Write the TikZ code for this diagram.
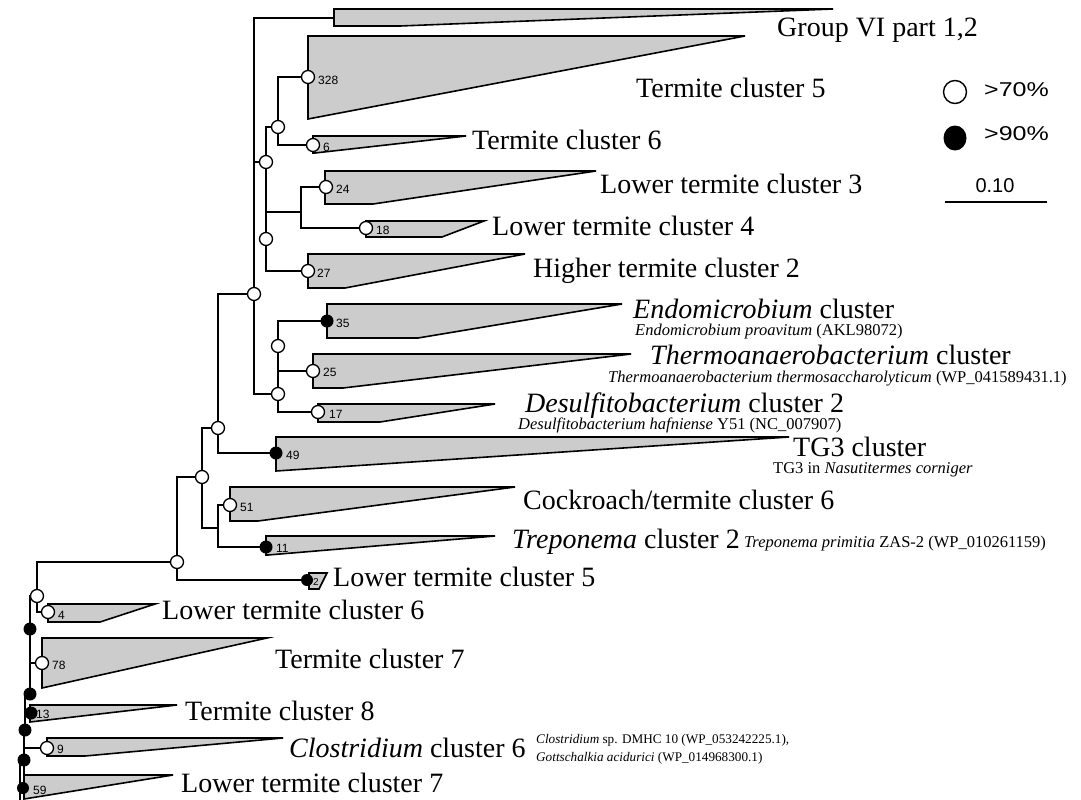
\documentclass[tikz,border=0pt]{standalone}
\usepackage{fontspec}
\usetikzlibrary{shapes.geometric}
\setmainfont{Liberation Serif}
\newfontfamily\lsans{Liberation Sans}
\newfontfamily\lsansw{Liberation Sans}[FakeStretch=1.25]
\begin{document}
\begin{tikzpicture}[x=1pt,y=-1pt,
  br/.style={line width=1.7pt, line cap=rect},
  clade/.style={draw, line width=1.6pt, fill=black!20, line join=miter},
  oc/.style={circle, draw, line width=1.3pt, fill=white, inner sep=0pt, minimum size=13pt},
  fc/.style={circle, fill=black, inner sep=0pt, minimum size=13pt},
  num/.style={font=\lsans\fontsize{12}{12}\selectfont, anchor=west, inner sep=0pt},
  lab/.style={font=\fontsize{28}{30}\selectfont, anchor=base west, inner sep=0pt},
  sub/.style={font=\fontsize{16.5}{17}\selectfont, anchor=base west, inner sep=0pt},
  csub/.style={font=\fontsize{13.2}{14}\selectfont, anchor=base west, inner sep=0pt},
  leg/.style={font=\lsansw\fontsize{20}{22}\selectfont, anchor=west, inner sep=0pt}]
\useasboundingbox (0,0) rectangle (1081,800);
\begin{scope}
\clip (0,0) rectangle (1081,800);
% collapsed clades
\draw[clade] (334,9) -- (833,9) -- (400,26) -- (334,26) -- cycle;
\draw[clade] (308,36) -- (745,36) -- (308,119) -- cycle;
\draw[clade] (313,136) -- (466,136) -- (315,153) -- (313,153) -- cycle;
\draw[clade] (325,171) -- (596,171) -- (373,204) -- (325,204) -- cycle;
\draw[clade] (366,221) -- (484,221) -- (442,237) -- (366,237) -- cycle;
\draw[clade] (308,254) -- (525,254) -- (345,288) -- (308,288) -- cycle;
\draw[clade] (327,304) -- (622,304) -- (418,338) -- (327,338) -- cycle;
\draw[clade] (313,354) -- (631,354) -- (343,388) -- (313,388) -- cycle;
\draw[clade] (318,404) -- (495,404) -- (380,422) -- (318,422) -- cycle;
\draw[clade] (276,437) -- (789,437) -- (276,471) -- cycle;
\draw[clade] (230,487) -- (515,487) -- (258,521) -- (230,521) -- cycle;
\draw[clade] (266,536) -- (495,536) -- (268,555) -- (266,555) -- cycle;
\draw[clade] (309,573) -- (327,573) -- (319,589) -- (309,589) -- cycle;
\draw[clade] (48,604) -- (155,604) -- (100,622) -- (48,622) -- cycle;
\draw[clade] (42,638) -- (267,638) -- (42,688) -- cycle;
\draw[clade] (30,705) -- (177,705) -- (30,722) -- cycle;
\draw[clade] (47,738) -- (283,738) -- (85,756) -- (47,756) -- cycle;
\draw[clade] (24,775) -- (173,775) -- (24,799) -- cycle;
% node points
\coordinate (n255) at (254,294);
\coordinate (n218) at (218,428);
\coordinate (n202) at (202,477);
\coordinate (n177) at (177,562);
\coordinate (n37) at (37,596);
\coordinate (n266) at (266,162);
\coordinate (n266b) at (266,239);
\coordinate (n278) at (278,127);
\coordinate (n301) at (301,212);
\coordinate (n278b) at (278,394);
\coordinate (n278c) at (278,346);
\coordinate (n218b) at (218,528);
\coordinate (t1) at (30,629);
\coordinate (t2) at (30,694);
\coordinate (t3) at (25,730);
\coordinate (t4) at (24,760);
\coordinate (t5) at (20,800);
\coordinate (gvi) at (334,18);
\coordinate (l328) at (308,77);
\coordinate (l6) at (313,145);
\coordinate (l24) at (326,187);
\coordinate (l18) at (366,228);
\coordinate (l27) at (308,271);
\coordinate (l35) at (327,321);
\coordinate (l25) at (313,371);
\coordinate (l17) at (318,412);
\coordinate (l49) at (276,453);
\coordinate (l51) at (230,505);
\coordinate (l11) at (266,547);
\coordinate (l2) at (307,580);
\coordinate (l4) at (48,612);
\coordinate (l78) at (42,663);
\coordinate (l13) at (31,713);
\coordinate (l9) at (47,748);
\coordinate (l59) at (24,788);
% branches
\draw[br] (n255) |- (gvi);
\draw[br] (n255) |- (n266);
\draw[br] (n255) |- (n278b);
\draw[br] (n266) |- (n278);
\draw[br] (n266) |- (n301);
\draw[br] (n266) |- (l27);
\draw[br] (n278) |- (l328);
\draw[br] (n278) |- (l6);
\draw[br] (n301) |- (l24);
\draw[br] (n301) |- (l18);
\draw[br] (n278b) |- (l35);
\draw[br] (n278b) |- (l25);
\draw[br] (n278b) |- (l17);
\draw[br] (n218) |- (n255);
\draw[br] (n218) |- (l49);
\draw[br] (n202) |- (n218);
\draw[br] (n202) |- (n218b);
\draw[br] (n218b) |- (l51);
\draw[br] (n218b) |- (l11);
\draw[br] (n177) |- (n202);
\draw[br] (n177) |- (l2);
\draw[br] (n37) |- (n177);
\draw[br] (n37) |- (l4);
\draw[br] (t1) |- (n37);
\draw[br] (t1) |- (l78);
\draw[br] (t2) |- (t1);
\draw[br] (t3) |- (t2);
\draw[br] (t3) |- (l13);
\draw[br] (t4) |- (t3);
\draw[br] (t4) |- (l9);
\draw[br] (t4) -- (l59);
\draw[br] (t5) |- (t4);
% support circles
\foreach \p in {n255,n218,n202,n177,n37,n266,n266b,n278,n278b,n278c,
  l328,l6,l24,l18,l27,l25,l17,l51,l4,l78,l9}
  \node[oc] (c-\p) at (\p) {};
\foreach \p in {l35,l49,l11,l13,t1,t2,t3,t4}
  \node[fc] (c-\p) at (\p) {};
\node[fc, minimum size=12pt] (c-l2) at (l2) {};
\node[fc, minimum size=12pt] (c-l59) at (23,788) {};
\end{scope}
% clade sizes
\node[num] (s328) at (318,80) {328};
\node[num] (s6) at (323,147) {6};
\node[num] (s24) at (336,189) {24};
\node[num] (s18) at (376,230) {18};
\node[num] (s27) at (317,273) {27};
\node[num] (s35) at (336,323) {35};
\node[num] (s25) at (323,372) {25};
\node[num] (s17) at (329,414) {17};
\node[num] (s49) at (286,455) {49};
\node[num] (s51) at (240,507) {51};
\node[num] (s11) at (276,548) {11};
\node[num, font=\lsans\fontsize{10}{10}\selectfont] (s2) at (313,582) {2};
\node[num] (s4) at (58,615) {4};
\node[num] (s78) at (52,665) {78};
\node[num] (s13) at (36,714) {13};
\node[num] (s9) at (57,749) {9};
\node[num] (s59) at (33,790) {59};
% clade names
\node[lab] (tGVI) at (777,37) {Group VI part 1,2};
\node[lab] (tT5) at (636,97) {Termite cluster 5};
\node[lab] (tT6) at (472,149) {Termite cluster 6};
\node[lab] (tL3) at (600,193) {Lower termite cluster 3};
\node[lab] (tL4) at (492,235) {Lower termite cluster 4};
\node[lab] (tH2) at (533,277) {Higher termite cluster 2};
\node[lab] (tEn) at (633,318) {\textit{Endomicrobium} cluster};
\node[sub] (sEn) at (635,335) {\textit{Endomicrobium proavitum} (AKL98072)};
\node[lab] (tTh) at (650,364) {\textit{Thermoanaerobacterium} cluster};
\node[sub] (sTh) at (608,382) {\textit{Thermoanaerobacterium thermosaccharolyticum} (WP\_041589431.1)};
\node[lab] (tDe) at (525,412) {\textit{Desulfitobacterium} cluster 2};
\node[sub] (sDe) at (518,429) {\textit{Desulfitobacterium hafniense} Y51 (NC\_007907)};
\node[lab] (tTG) at (793,456) {TG3 cluster};
\node[sub] (sTG) at (773,473) {TG3 in \textit{Nasutitermes corniger}};
\node[lab] (tC6) at (523,509) {Cockroach/termite cluster 6};
\node[lab] (tTr) at (512,548) {\textit{Treponema} cluster 2};
\node[sub] (sTr) at (744,547) {\textit{Treponema primitia} ZAS-2 (WP\_010261159)};
\node[lab] (tL5) at (333,586) {Lower termite cluster 5};
\node[lab] (tL6) at (162,619) {Lower termite cluster 6};
\node[lab] (tT7) at (275,668) {Termite cluster 7};
\node[lab] (tT8) at (185,720) {Termite cluster 8};
\node[lab] (tCl) at (289,757) {\textit{Clostridium} cluster 6};
\node[csub] (sCl1) at (536,743) {\textit{Clostridium} sp. DMHC 10 (WP\_053242225.1),};
\node[csub] (sCl2) at (536,761) {\textit{Gottschalkia acidurici} (WP\_014968300.1)};
\node[lab] (tL7) at (181,792) {Lower termite cluster 7};
% legend
\node[oc, minimum size=23pt, line width=1.4pt] (k70) at (955,92) {};
\node[leg] (t70) at (984,90) {>70\%};
\node[fc, ellipse, minimum width=23pt, minimum height=25pt] (k90) at (955,138) {};
\node[leg] (t90) at (984,134) {>90\%};
\node[leg, font=\lsans\fontsize{20}{22}\selectfont, anchor=center] (tsc) at (995,186) {0.10};
\coordinate (sb1) at (945,202);
\coordinate (sb2) at (1047,202);
\draw[line width=1.5pt] (sb1) -- (sb2);
\end{tikzpicture}
\end{document}
